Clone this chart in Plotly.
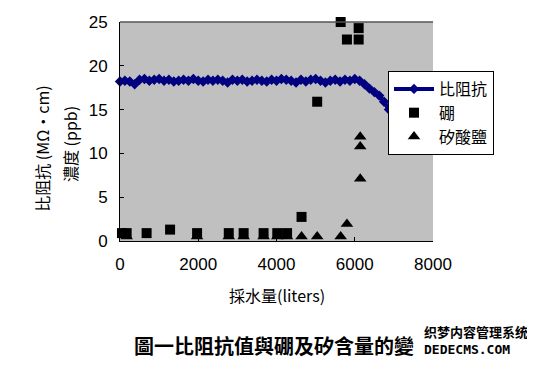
import plotly.graph_objects as go

# ---- data ----
x_res = [0, 125, 250, 375, 500, 625, 750, 875, 1000, 1125, 1250, 1375, 1500, 1625, 1750, 1875,
         2000, 2125, 2250, 2375, 2500, 2625, 2750, 2875, 3000, 3125, 3250, 3375, 3500, 3625,
         3750, 3875, 4000, 4125, 4250, 4375, 4500, 4625, 4750, 4875, 5000, 5125, 5250, 5375,
         5500, 5625, 5750, 5875, 6000, 6125, 6250, 6375, 6500, 6625, 6750, 6875, 7000]
y_res = [18.2, 18.3, 18.2, 17.9, 18.4, 18.5, 18.3, 18.4, 18.5, 18.3, 18.4, 18.2, 18.3, 18.4, 18.3, 18.5,
         18.3, 18.2, 18.4, 18.3, 18.4, 18.3, 18.1, 18.4, 18.3, 18.4, 18.2, 18.3, 18.4, 18.3,
         18.2, 18.4, 18.3, 18.5, 18.4, 18.3, 18.1, 18.4, 18.2, 18.4, 18.5, 18.3, 18.1, 18.3,
         18.4, 18.2, 18.4, 18.3, 18.5, 18.3, 17.9, 17.4, 17.0, 16.6, 15.9, 15.0, 14.0]

x_boron = [50, 170, 680, 1280, 1970, 2780, 3160, 3670, 4020, 4270, 4640, 5040, 5640, 5800, 6100, 6100]
y_boron = [0.9, 0.9, 0.9, 1.3, 0.9, 0.9, 0.9, 0.9, 0.9, 0.9, 2.75, 15.9, 25.0, 23.0, 24.3, 23.0]

x_sil = [170, 1970, 2780, 3160, 3670, 4020, 4270, 4640, 5040, 5640, 5800, 6140, 6140, 6140]
y_sil = [0.5, 0.5, 0.5, 0.5, 0.5, 0.5, 0.5, 0.5, 0.5, 0.5, 1.95, 7.1, 10.8, 11.9]

x_ticks = [0, 2000, 4000, 6000, 8000]
y_ticks = [0, 5, 10, 15, 20, 25]

names = ["比阻抗", "硼", "矽酸鹽"]

# page body adds an 8px offset, so the figure is laid out 8px up/left
OFF = 8
W, H = 535, 367
L_ref, T_ref, R_ref, B_ref = 120, 13, 433, 241
pw, ph = R_ref - L_ref, B_ref - T_ref
L, T = L_ref - OFF, T_ref - OFF
R, B = W - L - pw, H - T - ph

def px(x):
    return (x - L_ref) / pw

def py(y):
    return 1 - (y - T_ref) / ph

fig = go.Figure()
fig.add_trace(go.Scatter(x=x_res, y=y_res, name=names[0], mode="lines+markers",
                         line=dict(color="#000080", width=4),
                         marker=dict(symbol="diamond", size=8, color="#000080"),
                         cliponaxis=False))
fig.add_trace(go.Scatter(x=x_boron, y=y_boron, name=names[1], mode="markers",
                         marker=dict(symbol="square", size=10, color="black"),
                         cliponaxis=False))
fig.add_trace(go.Scatter(x=x_sil, y=y_sil, name=names[2], mode="markers",
                         marker=dict(symbol="triangle-up", size=11, color="black"),
                         cliponaxis=False))

cjk = "Noto Sans CJK TC"
def ann(text, x, y, size=16, family=cjk, angle=0, xanchor="center"):
    return dict(text=text, xref="paper", yref="paper", x=px(x), y=py(y),
                xanchor=xanchor, yanchor="middle", textangle=angle, align="left",
                showarrow=False, font=dict(family=family, size=size, color="black"))

watermark = ("<b>织梦内容管理系统</b><br>"
             "<span style='font-family:DejaVu Sans Mono'><b>DEDECMS.COM</b></span>")

fig.update_layout(
    width=W, height=H,
    margin=dict(l=L, r=R, t=T, b=B, pad=0),
    paper_bgcolor="white", plot_bgcolor="#c0c0c0",
    font=dict(family="Liberation Sans, Arial, sans-serif", size=17, color="black"),
    showlegend=True,
    legend=dict(x=px(388), y=py(64), xanchor="left", yanchor="top",
                bgcolor="white", bordercolor="black", borderwidth=1,
                font=dict(family=cjk, size=16, color="black"),
                itemwidth=40, tracegroupgap=0),
    xaxis=dict(range=[0, 8000], tickvals=x_ticks, showgrid=False, zeroline=False,
               showline=True, linecolor="black", linewidth=1,
               ticks="inside", ticklen=4, tickcolor="black",
               ticklabelstandoff=8, ticklabeloverflow="allow"),
    yaxis=dict(range=[0, 25], tickvals=y_ticks, showgrid=False, zeroline=False,
               showline=True, linecolor="black", linewidth=1,
               ticks="inside", ticklen=4, tickcolor="black",
               ticklabelstandoff=8, ticklabeloverflow="allow"),
    shapes=[dict(type="line", xref="paper", yref="paper", x0=0, x1=1, y0=1, y1=1,
                 line=dict(color="#555555", width=1.5))],
    annotations=[
        ann("比阻抗 (MΩ·cm)", 42, 145, angle=-90),
        ann("濃度 (ppb)", 70, 140, angle=-90),
        ann("採水量(liters)", 277, 297),
        ann("<b>圖一比阻抗值與硼及矽含量的變</b>", 132, 350, size=20, xanchor="left"),
        ann(watermark, 422, 344, size=13, family="Noto Sans CJK SC", xanchor="left"),
    ],
)

fig.write_html("out.html")
